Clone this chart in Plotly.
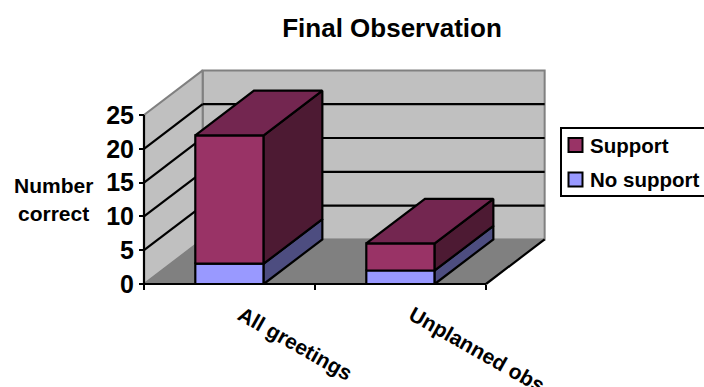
import plotly.graph_objects as go

# Chart data
categories = ["All greetings", "Unplanned obs"]
no_support = [3, 2]
support = [19, 4]
value_ticks = [0, 5, 10, 15, 20, 25]

# Colours for the box faces
SUPPORT_FRONT, SUPPORT_TOP, SUPPORT_SIDE = "#993366", "#732650", "#4D1A33"
NOSUPPORT_FRONT, NOSUPPORT_SIDE = "#9999FF", "#4D4D80"
WALL, FLOOR, EDGE = "#C0C0C0", "#808080", "#808080"
FONT = "Liberation Sans"

# Oblique projection: depth 0 is the front plane, depth 1 the back wall
DEPTH_X = 0.343
DEPTH_Y = 6.6
BAR_START = 0.30
BAR_WIDTH = 0.40
VMAX = value_ticks[-1]
NCAT = len(categories)


def project(x, v, d=0.0):
    return x + d * DEPTH_X, v + d * DEPTH_Y


def face(points, fill, line_color="black", line_width=2.2):
    xs, ys = zip(*[project(*p) for p in points])
    return go.Scatter(
        x=list(xs) + [xs[0]], y=list(ys) + [ys[0]],
        mode="lines", fill="toself", fillcolor=fill,
        line=dict(color=line_color, width=line_width),
        hoverinfo="skip", showlegend=False,
    )


def segment(a, b, color="black", width=2.2):
    xs, ys = zip(project(*a), project(*b))
    return go.Scatter(
        x=list(xs), y=list(ys), mode="lines",
        line=dict(color=color, width=width),
        hoverinfo="skip", showlegend=False,
    )


def box(x0, x1, v0, v1, front, side, top=None):
    out = [
        face([(x0, v0, 0), (x1, v0, 0), (x1, v1, 0), (x0, v1, 0)], front),
        face([(x1, v0, 0), (x1, v0, 1), (x1, v1, 1), (x1, v1, 0)], side),
    ]
    if top:
        out.append(face([(x0, v1, 0), (x1, v1, 0), (x1, v1, 1), (x0, v1, 1)], top))
    return out


fig = go.Figure()

# Walls and floor
fig.add_trace(face([(0, 0, 1), (NCAT, 0, 1), (NCAT, VMAX, 1), (0, VMAX, 1)], WALL, EDGE, 2))
fig.add_trace(face([(0, 0, 0), (0, 0, 1), (0, VMAX, 1), (0, VMAX, 0)], WALL, EDGE, 2))
fig.add_trace(face([(0, 0, 0), (NCAT, 0, 0), (NCAT, 0, 1), (0, 0, 1)], FLOOR, FLOOR, 1))

# Gridlines run along the left wall, then across the back wall
for v in value_ticks[1:-1]:
    fig.add_trace(segment((0, v, 0), (0, v, 1)))
    fig.add_trace(segment((0, v, 1), (NCAT, v, 1)))

# Front and right floor edges, and the value axis line
fig.add_trace(segment((0, 0, 0), (NCAT, 0, 0)))
fig.add_trace(segment((NCAT, 0, 0), (NCAT, 0, 1)))
fig.add_trace(segment((0, 0, 0), (0, VMAX, 0)))

# Stacked bars
for i in range(NCAT):
    x0, x1 = i + BAR_START, i + BAR_START + BAR_WIDTH
    low, high = no_support[i], no_support[i] + support[i]
    fig.add_traces(box(x0, x1, 0, low, NOSUPPORT_FRONT, NOSUPPORT_SIDE))
    fig.add_traces(box(x0, x1, low, high, SUPPORT_FRONT, SUPPORT_SIDE, SUPPORT_TOP))

W, H = 704, 387
X0_PX, PX_PER_CAT = 144, 171
Y0_PX, PX_PER_VAL = 284, 6.76


def paper_x(px):
    return px / W


def paper_y(py):
    return 1 - py / H


# Legend box with its swatches and labels
legend_names = ["Support", "No support"]
legend_colours = [SUPPORT_FRONT, NOSUPPORT_FRONT]
legend_rows = [145, 179.5]

shapes = [dict(
    type="rect", xref="paper", yref="paper",
    x0=paper_x(561), x1=paper_x(710), y0=paper_y(128), y1=paper_y(196),
    fillcolor="white", line=dict(color="black", width=2),
)]
legend_text = []
for name, colour, row in zip(legend_names, legend_colours, legend_rows):
    shapes.append(dict(
        type="rect", xref="paper", yref="paper",
        x0=paper_x(568.5), x1=paper_x(582.5), y0=paper_y(row - 7), y1=paper_y(row + 7),
        fillcolor=colour, line=dict(color="black", width=2),
    ))
    legend_text.append(dict(
        text=name, x=paper_x(588), y=paper_y(row), xref="paper", yref="paper",
        xanchor="left", yanchor="middle", showarrow=False,
        font=dict(family=FONT, size=20.5, weight=700, color="black"),
    ))

fig.update_layout(
    width=W, height=H, autosize=False, showlegend=False,
    margin=dict(l=0, r=0, t=0, b=0),
    paper_bgcolor="white", plot_bgcolor="white",
    font=dict(family=FONT, color="black"),
    title=dict(
        text="Final Observation", x=392 / W, xanchor="center", y=1 - 28 / H, yanchor="middle",
        font=dict(family=FONT, size=26, weight=700, color="black"),
    ),
    xaxis=dict(
        range=[-X0_PX / PX_PER_CAT, (W - X0_PX) / PX_PER_CAT],
        anchor="free", position=(H - Y0_PX) / H, automargin=False,
        showgrid=False, zeroline=False, showline=False,
        tickmode="array", tickvals=[i + 0.5 for i in range(NCAT)], ticktext=categories,
        tickangle=29.5, ticks="", ticklabelstandoff=14, ticklabelshift=12,
        tickfont=dict(family=FONT, size=21, weight=700, color="black"),
        minor=dict(ticks="outside", tickmode="array", tickvals=list(range(NCAT + 1)),
                   ticklen=5, tickwidth=2, tickcolor="black", showgrid=False),
    ),
    yaxis=dict(
        range=[(Y0_PX - H) / PX_PER_VAL, Y0_PX / PX_PER_VAL],
        anchor="free", position=X0_PX / W, automargin=False,
        showgrid=False, zeroline=False, showline=False,
        tickmode="array", tickvals=value_ticks,
        ticks="outside", ticklen=5, tickwidth=2, tickcolor="black",
        tickfont=dict(family=FONT, size=25, weight=700, color="black"),
    ),
    shapes=shapes,
    annotations=legend_text + [dict(
        text="Number", x=paper_x(53.5), y=paper_y(185), xref="paper", yref="paper",
        xanchor="center", yanchor="middle", showarrow=False,
        font=dict(family=FONT, size=21, weight=700, color="black"),
    ), dict(
        text="correct", x=paper_x(53.5), y=paper_y(213), xref="paper", yref="paper",
        xanchor="center", yanchor="middle", showarrow=False,
        font=dict(family=FONT, size=21, weight=700, color="black"),
    )],
)

fig.write_html("out.html")
